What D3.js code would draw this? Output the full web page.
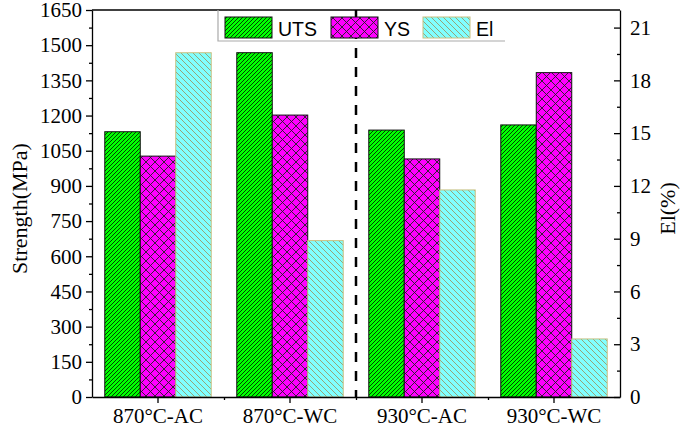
<!DOCTYPE html>
<html>
<head>
  <meta charset="utf-8">
  <title>Strength and elongation</title>
  <script src="https://d3js.org/d3.v7.min.js"></script>
  <style>
    body { margin: 0; background: #fff; }
  </style>
</head>
<body>
  <script>
    // values
    const categories = ["870°C-AC", "870°C-WC", "930°C-AC", "930°C-WC"];
    const series = ["UTS", "YS", "El"];
    const uts = [1131, 1468, 1138, 1160];
    const ys = [1027, 1202, 1015, 1383];
    const el = [19.57, 8.89, 11.77, 3.3];
    const leftTicks = [0, 150, 300, 450, 600, 750, 900, 1050, 1200, 1350, 1500, 1650];
    const rightTicks = [0, 3, 6, 9, 12, 15, 18, 21];

    const width = 685, height = 431;
    const plotL = 92, plotR = 620, plotT = 10, plotB = 397;

    const svg = d3.select("body").append("svg")
      .attr("width", width)
      .attr("height", height);

    // hatch patterns
    const defs = svg.append("defs");
    const pUts = defs.append("pattern").attr("id", "p-uts")
      .attr("patternUnits", "userSpaceOnUse").attr("width", 4).attr("height", 4);
    pUts.append("rect").attr("width", 4).attr("height", 4).attr("fill", "#00ff00");
    pUts.append("path").attr("d", "M-1,1 l2,-2 M0,4 l4,-4 M3,5 l2,-2")
      .attr("stroke", "#000").attr("stroke-width", 0.75);

    const pYs = defs.append("pattern").attr("id", "p-ys")
      .attr("patternUnits", "userSpaceOnUse").attr("width", 9).attr("height", 9);
    pYs.append("rect").attr("width", 9).attr("height", 9).attr("fill", "#ff00ff");
    pYs.append("path").attr("d", "M0,0 L9,9 M9,0 L0,9")
      .attr("stroke", "#222").attr("stroke-width", 0.9);

    const pEl = defs.append("pattern").attr("id", "p-el")
      .attr("patternUnits", "userSpaceOnUse").attr("width", 6).attr("height", 6);
    pEl.append("rect").attr("width", 6).attr("height", 6).attr("fill", "#80ffff");
    pEl.append("path").attr("d", "M-1,5 l2,2 M0,0 l6,6 M5,-1 l2,2")
      .attr("stroke", "#9a9a6a").attr("stroke-width", 0.9);

    const fills = { UTS: "url(#p-uts)", YS: "url(#p-ys)", El: "url(#p-el)" };
    const strokes = { UTS: "#111", YS: "#111", El: "#c8c080" };

    // scales
    const x = d3.scaleBand().domain(categories).range([plotL, plotR]);
    const xs = d3.scaleBand().domain(series).range([0, x.bandwidth()]).paddingOuter(0.36);
    const y = d3.scaleLinear().domain([0, 1650]).range([plotB, plotT]);
    const y2 = d3.scaleLinear().domain([0, 22]).range([plotB, plotT]);

    const rows = categories.map((c, i) => ({ cat: c, UTS: uts[i], YS: ys[i], El: el[i] }));

    const groups = svg.append("g").selectAll("g")
      .data(rows).enter().append("g")
      .attr("transform", d => `translate(${x(d.cat)},0)`);

    groups.selectAll("rect")
      .data(d => series.map(s => ({ s: s, v: d[s] })))
      .enter().append("rect")
      .attr("x", d => xs(d.s))
      .attr("width", xs.bandwidth())
      .attr("y", d => d.s === "El" ? y2(d.v) : y(d.v))
      .attr("height", d => plotB - (d.s === "El" ? y2(d.v) : y(d.v)))
      .attr("fill", d => fills[d.s])
      .attr("stroke", d => strokes[d.s])
      .attr("stroke-width", 1);

    // dashed separator
    const mid = x(categories[2]);
    svg.append("line")
      .attr("x1", mid).attr("x2", mid).attr("y1", plotT).attr("y2", plotB)
      .attr("stroke", "#000").attr("stroke-width", 2.5)
      .attr("stroke-dasharray", "10 9");

    // axes
    const serif = "'Liberation Serif', 'Times New Roman', serif";

    const minorL = d3.range(75, 1650, 150);
    svg.append("g").attr("transform", `translate(${plotL},0)`)
      .call(d3.axisLeft(y).tickValues(minorL).tickSize(3).tickFormat(""))
      .call(g => g.select(".domain").remove());
    svg.append("g").attr("transform", `translate(${plotL},0)`)
      .call(d3.axisLeft(y).tickValues(leftTicks).tickSize(6).tickPadding(4)
        .tickSizeOuter(0).tickFormat(d3.format("d")))
      .call(g => g.selectAll("text").attr("font-family", serif).attr("font-size", 21).attr("fill", "#000"));

    const minorR = d3.range(1.5, 22, 3);
    svg.append("g").attr("transform", `translate(${plotR},0)`)
      .call(d3.axisRight(y2).tickValues(minorR).tickSize(-3).tickFormat(""))
      .call(g => g.select(".domain").remove());
    svg.append("g").attr("transform", `translate(${plotR},0)`)
      .call(d3.axisRight(y2).tickValues(rightTicks).tickSize(-6).tickPadding(10).tickSizeOuter(0))
      .call(g => g.selectAll("text").attr("font-family", serif).attr("font-size", 21).attr("fill", "#000"));

    svg.append("g").attr("transform", `translate(0,${plotB})`)
      .call(d3.axisBottom(x).tickSize(6).tickPadding(5).tickSizeOuter(0))
      .call(g => g.selectAll("text").attr("font-family", serif).attr("font-size", 21).attr("fill", "#000"));
    svg.append("g").attr("transform", `translate(0,${plotB})`)
      .call(d3.axisBottom(d3.scaleLinear().domain([0, 4]).range([plotL, plotR]))
        .tickValues([1, 2, 3]).tickSize(3).tickFormat(""))
      .call(g => g.select(".domain").remove());

    svg.selectAll(".domain").attr("stroke-width", 1.3);
    svg.selectAll(".tick line").attr("stroke-width", 1.3);

    // top frame line
    svg.append("line")
      .attr("x1", plotL).attr("x2", plotR).attr("y1", plotT).attr("y2", plotT)
      .attr("stroke", "#000").attr("stroke-width", 1.3);

    // axis titles
    svg.append("text")
      .attr("transform", `translate(27,${(plotT + plotB) / 2 + 5}) rotate(-90)`)
      .attr("text-anchor", "middle")
      .attr("font-family", serif).attr("font-size", 22)
      .text("Strength(MPa)");
    svg.append("text")
      .attr("transform", `translate(675,${(plotT + plotB) / 2 + 5}) rotate(-90)`)
      .attr("text-anchor", "middle")
      .attr("font-family", serif).attr("font-size", 22)
      .text("El(%)");

    // legend
    const leg = svg.append("g");
    leg.append("path")
      .attr("d", `M218,${plotT} V41 H505`)
      .attr("fill", "none").attr("stroke", "#aaa").attr("stroke-width", 1.2);
    const legX = [225, 331, 423];
    series.forEach((s, i) => {
      leg.append("rect")
        .attr("x", legX[i]).attr("y", 17).attr("width", 47).attr("height", 21)
        .attr("fill", fills[s]).attr("stroke", strokes[s]).attr("stroke-width", 1);
      leg.append("text")
        .attr("x", legX[i] + 53).attr("y", 36)
        .attr("font-family", "'Liberation Sans', Arial, sans-serif")
        .attr("font-size", 19.5)
        .text(s);
    });
  </script>
</body>
</html>
